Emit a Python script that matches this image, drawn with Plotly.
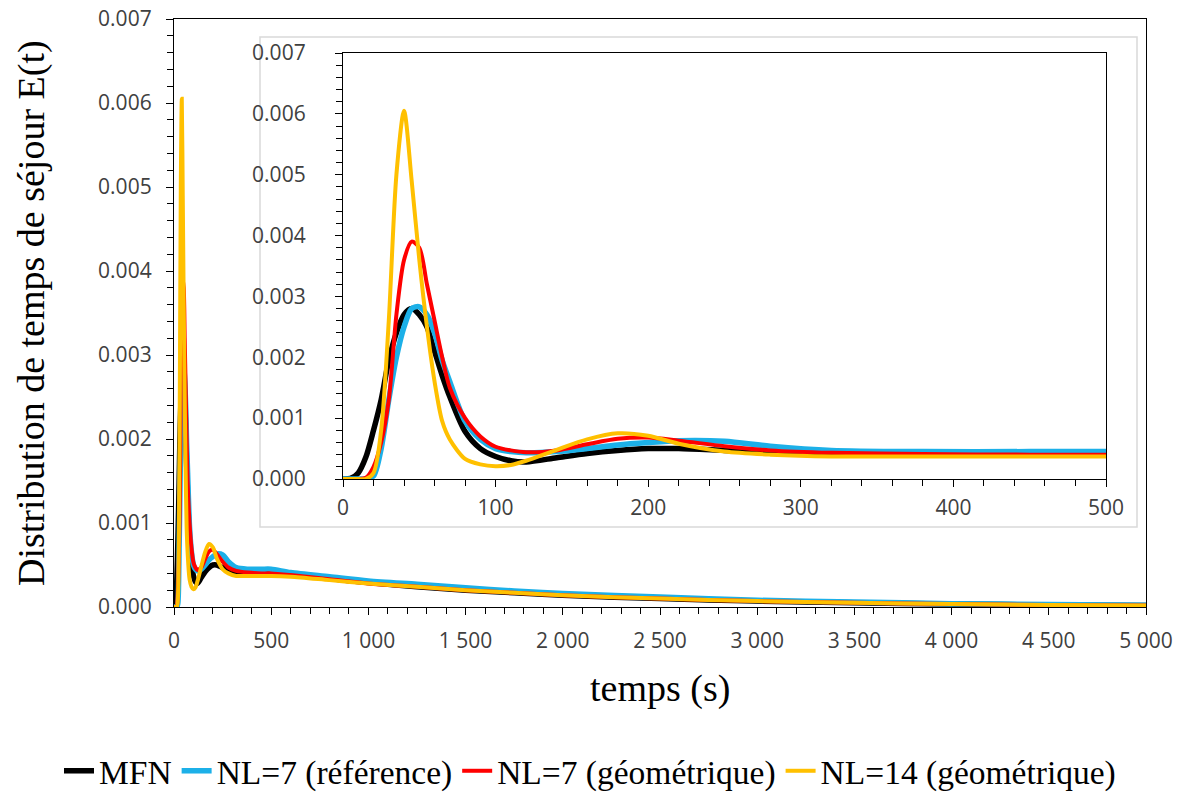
import plotly.graph_objects as go

# ---- data ----
t = [0, 5, 10, 15, 20, 25, 30, 35, 40, 45, 50, 55, 60, 65, 70, 80, 90, 100, 110, 120,
     140, 160, 180, 200, 220, 250, 280, 320, 380, 450, 500, 600, 800, 1000, 1250, 1500,
     1750, 2000, 2500, 3000, 3500, 4000, 4500, 5000]

mfn = [0, 0.00001, 0.0001, 0.00036, 0.0008, 0.0013, 0.00195, 0.0024, 0.0027, 0.0028, 0.0027,
       0.0025, 0.0021, 0.0017, 0.00135, 0.00078, 0.0005, 0.00037, 0.0003, 0.00028,
       0.00035, 0.00042, 0.00047, 0.0005, 0.0005, 0.00047, 0.00044, 0.00042, 0.00042, 0.00041,
       0.00041, 0.00039, 0.00034, 0.00029, 0.00024, 0.0002, 0.00017, 0.00014, 0.0001,
       0.00007, 0.00005, 0.000035, 0.000025, 0.000018]

nl7_ref = [0, 0, 0, 0, 0.00005, 0.0005, 0.0013, 0.002, 0.0025, 0.0028, 0.00283,
           0.0027, 0.0024, 0.00195, 0.0016, 0.00095, 0.00065, 0.0005, 0.00045, 0.00043,
           0.00045, 0.0005, 0.00056, 0.0006, 0.00063, 0.00062, 0.00054, 0.00047, 0.00045, 0.00045,
           0.00045, 0.00041, 0.00036, 0.00031, 0.00027, 0.00023, 0.00019, 0.00016, 0.00012,
           0.00008, 0.00006, 0.00004, 0.00003, 0.00002]

nl7_geo = [0, 0, 0, 0.00002, 0.0002, 0.0006, 0.0013, 0.0027, 0.0036, 0.0039, 0.0038,
           0.0032, 0.0026, 0.002, 0.0015, 0.001, 0.0007, 0.00053, 0.00047, 0.00044,
           0.00047, 0.00057, 0.00066, 0.00068, 0.00063, 0.00054, 0.00047, 0.00043, 0.00041, 0.0004,
           0.0004, 0.00038, 0.00033, 0.00028, 0.00024, 0.0002, 0.00017, 0.00014, 0.0001,
           0.00007, 0.00005, 0.000035, 0.000025, 0.000018]

nl14_geo = [0, 0, 0, 0, 0.0001, 0.0008, 0.0026, 0.005, 0.00605, 0.0049, 0.0036,
            0.0025, 0.0016, 0.00095, 0.00065, 0.00033, 0.00024, 0.00021, 0.00023, 0.0003,
            0.00048, 0.00065, 0.00075, 0.00071, 0.00058, 0.00045, 0.0004, 0.00037, 0.00037, 0.00037,
            0.00037, 0.00036, 0.00032, 0.00028, 0.00024, 0.0002, 0.00017, 0.00014, 0.0001,
            0.00007, 0.00005, 0.000035, 0.000025, 0.000018]

names = ["MFN", "NL=7 (référence)", "NL=7 (géométrique)", "NL=14 (géométrique)"]
colors = ["#000000", "#1CB0E8", "#FF0000", "#FFC000"]
widths = [5.5, 5.5, 4, 4]
series = [mfn, nl7_ref, nl7_geo, nl14_geo]

main_x_ticks = [0, 500, 1000, 1500, 2000, 2500, 3000, 3500, 4000, 4500, 5000]
y_ticks = [0, 0.001, 0.002, 0.003, 0.004, 0.005, 0.006, 0.007]
inset_x_ticks = [0, 100, 200, 300, 400, 500]

x_title = "temps (s)"
y_title = "Distribution de temps de séjour E(t)"

fig = go.Figure()
for name, col, w, ys in zip(names, colors, widths, series):
    fig.add_trace(go.Scatter(x=t, y=ys, mode="lines", name=name, legendgroup=name,
                             line=dict(color=col, width=w, shape="spline", smoothing=0.8),
                             xaxis="x", yaxis="y"))
for name, col, w, ys in zip(names, colors, widths, series):
    fig.add_trace(go.Scatter(x=t, y=ys, mode="lines", name=name, legendgroup=name,
                             showlegend=False,
                             line=dict(color=col, width=w, shape="spline", smoothing=0.8),
                             xaxis="x2", yaxis="y2"))

tick_font = dict(family="Open Sans", size=21, color="#404040")
serif = "Liberation Serif"

common_axis = dict(showgrid=False, zeroline=False, showline=True, linecolor="#000000",
                   linewidth=1.3, mirror=True, ticks="outside", ticklen=7, tickwidth=1.3,
                   tickcolor="#000000", tickfont=tick_font, automargin=False)

W = 1164.0  # plot-area width between margins
H = 588.0


def fx(px):
    return (px - 10) / W


def fy(py):
    return (607 - py) / H


fig.update_layout(
    width=1184, height=792,
    paper_bgcolor="white", plot_bgcolor="white",
    margin=dict(l=10, r=10, t=19, b=185),
    separators=". ",
    xaxis=dict(common_axis, domain=[fx(174), fx(1146)], range=[0, 5000], tickvals=main_x_ticks,
               separatethousands=True, ticklabelstandoff=8,
               minor=dict(dtick=100, ticks="outside", ticklen=6, tickcolor="#000000", tickwidth=1.2)),
    yaxis=dict(common_axis, domain=[0, 1], range=[0, 0.007], tickvals=y_ticks,
               tickformat=".3f", ticklabelstandoff=10,
               minor=dict(dtick=0.0002, ticks="outside", ticklen=6, tickcolor="#000000", tickwidth=1.2)),
    xaxis2=dict(common_axis, domain=[fx(343), fx(1106)], anchor="y2", range=[0, 500],
                tickvals=inset_x_ticks, ticklabelstandoff=3,
                minor=dict(dtick=20, ticks="outside", ticklen=6, tickcolor="#000000", tickwidth=1.2)),
    yaxis2=dict(common_axis, domain=[fy(479), fy(53)], anchor="x2", range=[0, 0.007],
                tickvals=y_ticks, tickformat=".3f", ticklabelstandoff=25,
                minor=dict(dtick=0.0002, ticks="outside", ticklen=6, tickcolor="#000000", tickwidth=1.2)),
    legend=dict(orientation="h", xref="container", yref="container",
                x=590 / 1184, xanchor="center", y=1 - 771 / 792, yanchor="middle",
                font=dict(family=serif, size=33.5, color="#000000"), itemwidth=30,
                bgcolor="rgba(0,0,0,0)"),
    showlegend=True,
    shapes=[dict(type="rect", xref="paper", yref="paper", x0=fx(260), x1=fx(1137),
                 y0=fy(527), y1=fy(37), line=dict(color="#D9D9D9", width=1.5),
                 fillcolor="white", layer="below")],
    annotations=[
        dict(text=x_title, xref="paper", yref="paper", x=fx(660), y=fy(688),
             xanchor="center", yanchor="middle", showarrow=False,
             font=dict(family=serif, size=38, color="#000000")),
        dict(text=y_title, xref="paper", yref="paper", x=fx(31), y=fy(313),
             xanchor="center", yanchor="middle", showarrow=False, textangle=-90,
             font=dict(family=serif, size=38, color="#000000")),
    ],
)

fig.write_html("out.html", config={"displayModeBar": False},
               post_script="document.body.style.margin='0';")
